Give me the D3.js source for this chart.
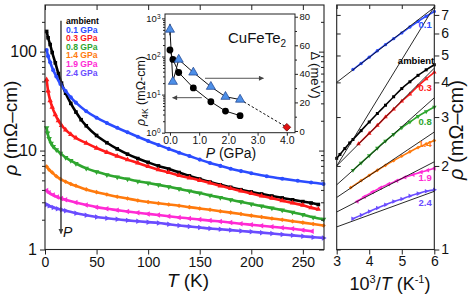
<!DOCTYPE html>
<html>
<head>
<meta charset="utf-8">
<script src="https://cdnjs.cloudflare.com/ajax/libs/d3/7.8.5/d3.min.js"></script>
<style>
body { margin: 0; background: #fff; }
svg { font-family: Arial, "Liberation Sans", sans-serif; }
</style>
</head>
<body>
<script>
// series info
var seriesNames = ["ambient", "0.1 GPa", "0.3 GPa", "0.8 GPa", "1.4 GPa", "1.9 GPa", "2.4 GPa"];
var seriesShort = ["ambient", "0.1", "0.3", "0.8", "1.4", "1.9", "2.4"];
var seriesColors = ["#000000", "#2b4cff", "#ff1a1a", "#2fa62f", "#ff7a0d", "#ff2ad4", "#6a4cff"];
var seriesMarkers = ["square", "circle", "up", "down", "diamond", "left", "right"];

// rho(T) curves, [T (K), rho (mOhm-cm)]
var rhoAmbient = [[1.6,160],[3,138],[5,118],[7,98],[10,77],[13,60],[16,48],[20,38],[25,30],[30,24.5],[35,20.5],[40,17.8],[50,14.2],[60,12],[70,10.4],[80,9.2],[90,8.3],[100,7.6],[110,7],[120,6.5],[130,6],[140,5.55],[150,5.15],[160,4.8],[170,4.5],[180,4.25],[190,4.02],[200,3.82],[210,3.64],[220,3.47],[230,3.32],[240,3.18],[250,3.05],[258,2.95],[265,2.85]];
var rho01 = [[1.6,104],[3,90],[5,78],[8,65],[11,56],[15,47],[20,40],[25,34.5],[30,30.5],[40,25],[50,21.5],[60,19],[70,17],[80,15.3],[90,13.8],[100,12.5],[110,11.4],[120,10.4],[130,9.5],[140,8.8],[150,8.1],[160,7.5],[170,7],[180,6.55],[190,6.2],[200,5.9],[215,5.5],[230,5.2],[245,4.95],[258,4.75],[270,4.6]];
var rho03 = [[1.6,52],[3,40],[5,32],[7,27.5],[10,23],[13,20],[16,18],[20,16.2],[25,14.6],[30,13.4],[40,11.9],[50,10.6],[60,9.6],[70,8.8],[80,8.1],[90,7.5],[100,6.9],[110,6.4],[120,6],[130,5.6],[140,5.3],[150,5],[160,4.7],[170,4.4],[180,4.15],[190,3.9],[200,3.68],[210,3.48],[220,3.3],[230,3.12],[240,2.95],[250,2.8],[258,2.65],[265,2.55]];
var rho08 = [[1.6,17],[2.5,15],[4,13.2],[6,11.8],[8,11],[11,10.2],[15,9.4],[20,8.5],[25,7.9],[30,7.4],[40,6.6],[50,6.1],[60,5.7],[70,5.4],[80,5.15],[90,4.9],[100,4.7],[110,4.5],[120,4.3],[130,4.1],[140,3.9],[150,3.72],[160,3.52],[170,3.35],[180,3.18],[190,3.03],[200,2.88],[210,2.75],[220,2.62],[230,2.5],[240,2.38],[250,2.25],[260,2.12],[270,2.02]];
var rho14 = [[1.6,6.9],[4,6.4],[7,6],[11,5.5],[15,5.15],[20,4.85],[25,4.6],[30,4.4],[40,4.05],[50,3.8],[60,3.6],[70,3.42],[80,3.27],[90,3.13],[100,3.02],[110,2.93],[120,2.85],[130,2.77],[140,2.68],[150,2.6],[160,2.52],[170,2.44],[180,2.36],[190,2.28],[200,2.2],[210,2.13],[220,2.06],[230,2],[240,1.93],[250,1.87],[260,1.81],[270,1.75]];
var rho19 = [[1.6,3.95],[4,3.75],[8,3.55],[12,3.4],[16,3.28],[20,3.18],[30,2.98],[40,2.82],[50,2.68],[60,2.58],[70,2.5],[80,2.42],[90,2.35],[100,2.29],[110,2.23],[120,2.17],[130,2.11],[140,2.06],[150,2.01],[160,1.96],[170,1.92],[180,1.87],[190,1.82],[200,1.78],[210,1.74],[220,1.7],[230,1.66],[240,1.62],[250,1.57],[259,1.53]];
var rho24 = [[1.6,2.85],[4,2.76],[8,2.66],[12,2.58],[16,2.52],[20,2.46],[30,2.33],[40,2.22],[50,2.13],[60,2.07],[70,2.02],[80,1.97],[90,1.93],[100,1.89],[110,1.85],[120,1.8],[130,1.75],[140,1.71],[150,1.67],[160,1.63],[170,1.6],[180,1.57],[190,1.54],[200,1.51],[210,1.48],[220,1.45],[230,1.42],[240,1.39],[250,1.36],[260,1.33],[270,1.31]];
var leftData = [rhoAmbient, rho01, rho03, rho08, rho14, rho19, rho24];

// Arrhenius panel, [1000/T, rho]
var arrAmbient = [[3,2.13],[3.1,2.2],[3.25,2.31],[3.4,2.42],[3.5,2.49],[3.75,2.68],[4,2.88],[4.25,3.09],[4.5,3.31],[4.75,3.55],[5,3.8],[5.25,4.02],[5.5,4.24],[5.75,4.44],[6,4.63]];
var arr01 = [[3.5,4.45],[3.75,4.68],[4,4.93],[4.25,5.2],[4.5,5.47],[4.75,5.75],[5,6.03],[5.25,6.33],[5.5,6.63],[5.75,6.92],[6,7.2]];
var arr03 = [[3.67,2.4],[4,2.62],[4.25,2.8],[4.5,3],[4.75,3.2],[5,3.42],[5.25,3.63],[5.5,3.88],[5.75,4.12],[6,4.35]];
var arr08 = [[3.5,1.93],[3.75,2.05],[4,2.18],[4.25,2.32],[4.5,2.46],[4.75,2.6],[5,2.75],[5.25,2.88],[5.5,3.02],[5.75,3.14],[6,3.26]];
var arr14 = [[3.43,1.67],[3.75,1.77],[4,1.85],[4.25,1.93],[4.5,2.01],[4.75,2.09],[5,2.17],[5.25,2.25],[5.5,2.33],[5.75,2.4],[6,2.47]];
var arr19 = [[3.63,1.49],[3.85,1.55],[4.1,1.61],[4.35,1.67],[4.6,1.72],[4.85,1.77],[5.1,1.82],[5.35,1.86],[5.6,1.9],[5.8,1.93],[6,1.96]];
var arr24 = [[3.49,1.29],[3.75,1.33],[4,1.37],[4.25,1.41],[4.5,1.45],[4.75,1.49],[5,1.52],[5.25,1.56],[5.5,1.59],[5.75,1.62],[6,1.64]];
var rightData = [arrAmbient, arr01, arr03, arr08, arr14, arr19, arr24];
// fit lines: rho at 1000/T = 3 and 6
var fitStart = [4.0, 2.0, 2.0, 1.71, 1.54, 1.365, 1.206];
var fitEnd = [7.45, 7.5, 4.5, 3.52, 2.65, 2.07, 1.62];
// label heights for right panel
var labelRho = [4.77, 6.43, 3.82, 2.89, 2.4, 1.81, 1.47];
var labelInvT = [6.0, 5.92, 5.92, 5.92, 5.92, 5.92, 5.92];

// inset
var pressure = [0, 0.1, 0.3, 0.8, 1.4, 1.9, 2.4];
var rho4K = [148, 84, 38, 15, 6.5, 3.7, 2.8];
var gap = [71, 34.5, 50, 41, 31, 24, 22];
var gapErr = [4, 0, 0, 0, 0, 0, 0];
var metalP = [4];
var metalGap = [2.6];

// ticks
var tTicks = [0, 50, 100, 150, 200, 250];
var rhoTicks = [1, 10, 100];
var rhoMinor = [2,3,4,5,6,7,8,9,20,30,40,50,60,70,80,90,200];
var invTicks = [3, 4, 5, 6];
var rhoRTicks = [1, 2, 3, 4, 5, 6, 7];
var pTicks = [0, 1, 2, 3, 4];
var rho4Ticks = [1, 10, 100, 1000];
var rho4Minor = [2,3,4,5,6,7,8,9,20,30,40,50,60,70,80,90,200,300,400,500,600,700,800,900];
var gapTicks = [0, 20, 40, 60, 80];
var gapMinor = [10, 30, 50, 70];

var svg = d3.select("body").append("svg")
	.attr("width", 472)
	.attr("height", 296);

svg.append("defs").append("marker")
	.attr("id", "ah")
	.attr("viewBox", "0 0 10 10")
	.attr("refX", 9).attr("refY", 5)
	.attr("markerWidth", 7).attr("markerHeight", 5)
	.attr("markerUnits", "userSpaceOnUse")
	.attr("orient", "auto")
	.append("path").attr("d", "M0,0L10,5L0,10z").attr("fill", "#444");

// marker shape generator
function markerPath(kind, size) {
	var t = d3.symbolTriangle;
	if (kind == "square") return { d: d3.symbol().type(d3.symbolSquare).size(size)(), r: 0 };
	if (kind == "circle") return { d: d3.symbol().type(d3.symbolCircle).size(size)(), r: 0 };
	if (kind == "diamond") return { d: d3.symbol().type(d3.symbolSquare).size(size * 0.8)(), r: 45 };
	if (kind == "up") return { d: d3.symbol().type(t).size(size)(), r: 0 };
	if (kind == "down") return { d: d3.symbol().type(t).size(size)(), r: 180 };
	if (kind == "left") return { d: d3.symbol().type(t).size(size)(), r: -90 };
	return { d: d3.symbol().type(t).size(size)(), r: 90 };
}

function styleAxis(g, fs) {
	g.select(".domain").remove();
	g.selectAll("line").attr("stroke", "#222");
	g.selectAll("text").attr("font-size", fs).attr("fill", "#111").attr("font-family", "Arial, 'Liberation Sans', sans-serif");
}

// ---------------- main panel ----------------
var x = d3.scaleLinear().domain([0, 270.5]).range([45, 324]);
var y = d3.scaleLog().domain([1, 296]).range([249.5, 5]);

var line = d3.line()
	.x(function(d) { return x(d[0]); })
	.y(function(d) { return y(d[1]); })
	.curve(d3.curveMonotoneX);

var curves = svg.append("g");
leftData.forEach(function(data, i) {
	curves.append("path")
		.attr("d", line(data))
		.attr("fill", "none")
		.attr("stroke", seriesColors[i])
		.attr("stroke-width", 2.6);
	var m = markerPath(seriesMarkers[i], 13);
	curves.selectAll(".m" + i)
		.data(data)
		.enter().append("path")
		.attr("d", m.d)
		.attr("fill", seriesColors[i])
		.attr("transform", function(d) {
			return "translate(" + x(d[0]) + "," + y(d[1]) + ") rotate(" + m.r + ")";
		});
});

// frame and ticks
svg.append("rect").attr("x", 45).attr("y", 5).attr("width", 279).attr("height", 244.5)
	.attr("fill", "none").attr("stroke", "#222").attr("stroke-width", 1.1);

svg.append("g").attr("transform", "translate(0,249.5)")
	.call(d3.axisBottom(x).tickValues(tTicks).tickSize(5).tickPadding(3))
	.call(styleAxis, 14);
svg.append("g").attr("transform", "translate(0,5)")
	.call(d3.axisBottom(x).tickValues(tTicks).tickSize(5).tickFormat(""))
	.call(styleAxis, 14);
svg.append("g").attr("transform", "translate(45,0)")
	.call(d3.axisLeft(y).tickValues(rhoTicks).tickFormat(d3.format("d")).tickSize(5).tickPadding(3))
	.call(styleAxis, 16);
svg.append("g").attr("transform", "translate(45,0)")
	.call(d3.axisLeft(y).tickValues(rhoMinor).tickFormat("").tickSize(3))
	.call(styleAxis, 16);
svg.append("g").attr("transform", "translate(324,0)")
	.call(d3.axisLeft(y).tickValues(rhoTicks).tickFormat("").tickSize(5))
	.call(styleAxis, 16);
svg.append("g").attr("transform", "translate(324,0)")
	.call(d3.axisLeft(y).tickValues(rhoMinor).tickFormat("").tickSize(3))
	.call(styleAxis, 16);

// axis titles
var tt = svg.append("text").attr("x", 188).attr("y", 287).attr("text-anchor", "middle").attr("font-size", 19).attr("fill", "#111");
tt.append("tspan").attr("font-style", "italic").text("T");
tt.append("tspan").text(" (K)");

svg.append("text")
	.attr("transform", "translate(17,128) rotate(-90)")
	.attr("text-anchor", "middle").attr("font-size", 19).attr("fill", "#111")
	.html('<tspan font-style="italic">ρ</tspan> (mΩ–cm)');

// legend
seriesNames.forEach(function(n, i) {
	svg.append("text")
		.attr("x", 66).attr("y", 24 + i * 8.6)
		.attr("font-size", 8.6).attr("font-weight", "bold")
		.attr("fill", seriesColors[i])
		.text(n);
});

// pressure arrow
svg.append("line")
	.attr("x1", x(15.5)).attr("x2", x(15.5))
	.attr("y1", y(205)).attr("y2", y(1.45))
	.attr("stroke", "#333").attr("stroke-width", 1.4)
	.attr("marker-end", "url(#ah)");
svg.append("text").attr("x", x(17.5)).attr("y", y(1.45) + 3)
	.attr("font-size", 14).attr("font-style", "italic").attr("fill", "#111").text("P");

// ---------------- inset ----------------
var xi = d3.scaleLinear().domain([-0.17, 4.28]).range([165, 295]);
var yi = d3.scaleLog().domain([1, 1304]).range([132.7, 14]);
var gi = d3.scaleLinear().domain([-1.2, 81.9]).range([132.7, 14]);

svg.append("rect").attr("x", 165).attr("y", 14).attr("width", 130).attr("height", 118.7)
	.attr("fill", "#fff").attr("stroke", "#222").attr("stroke-width", 1);

function supLabels(g) {
	g.selectAll(".tick text").each(function(d) {
		var t = d3.select(this);
		t.text("10");
		t.append("tspan").attr("dy", "-0.5em").attr("font-size", 6.5).text(Math.round(Math.log10(d)));
	});
}

svg.append("g").attr("transform", "translate(165,0)")
	.call(d3.axisLeft(yi).tickValues(rho4Ticks).tickSize(3).tickPadding(1.5))
	.call(styleAxis, 9.5)
	.call(supLabels);
svg.append("g").attr("transform", "translate(165,0)")
	.call(d3.axisLeft(yi).tickValues(rho4Minor).tickFormat("").tickSize(2))
	.call(styleAxis, 9.5);
svg.append("g").attr("transform", "translate(0,132.7)")
	.call(d3.axisBottom(xi).tickValues(pTicks).tickSize(3).tickPadding(1))
	.call(styleAxis, 10.5);
svg.append("g").attr("transform", "translate(295,0)")
	.call(d3.axisRight(gi).tickValues(gapTicks).tickSize(3).tickPadding(1.5))
	.call(styleAxis, 9.5);
svg.append("g").attr("transform", "translate(295,0)")
	.call(d3.axisRight(gi).tickValues(gapMinor).tickFormat("").tickSize(2))
	.call(styleAxis, 9.5);

// inset titles
svg.append("text")
	.attr("transform", "translate(145,91) rotate(-90)")
	.attr("text-anchor", "middle").attr("font-size", 12.5).attr("fill", "#111")
	.html('<tspan font-style="italic">ρ</tspan><tspan dy="3" font-size="8.5">4K</tspan><tspan dy="-3"> (mΩ-cm)</tspan>');
svg.append("text")
	.attr("transform", "translate(311,75) rotate(90)")
	.attr("text-anchor", "middle").attr("font-size", 13).attr("fill", "#111")
	.text("Δ (meV)");
var pt = svg.append("text").attr("x", 231).attr("y", 158).attr("text-anchor", "middle").attr("font-size", 14).attr("fill", "#111");
pt.append("tspan").attr("font-style", "italic").text("P");
pt.append("tspan").text(" (GPa)");
svg.append("text").attr("x", 228).attr("y", 43).attr("font-size", 15).attr("fill", "#111")
	.html('CuFeTe<tspan dy="4" font-size="10">2</tspan>');

// inset data
var gapPts = pressure.map(function(p, i) { return [p, gap[i]]; });
var rhoPts = pressure.map(function(p, i) { return [p, rho4K[i]]; });

svg.append("path")
	.attr("d", d3.line().x(function(d) { return xi(d[0]); }).y(function(d) { return gi(d[1]); })(gapPts))
	.attr("fill", "none").attr("stroke", "#111").attr("stroke-width", 1);
svg.append("path")
	.attr("d", d3.line().x(function(d) { return xi(d[0]); }).y(function(d) { return yi(d[1]); })(rhoPts))
	.attr("fill", "none").attr("stroke", "#111").attr("stroke-width", 1);
svg.append("line")
	.attr("x1", xi(pressure[6])).attr("y1", gi(gap[6]))
	.attr("x2", xi(metalP[0])).attr("y2", gi(metalGap[0]))
	.attr("stroke", "#111").attr("stroke-width", 1).attr("stroke-dasharray", "2.5,2");

// error bars
pressure.forEach(function(p, i) {
	if (gapErr[i] > 0) {
		svg.append("line")
			.attr("x1", xi(p)).attr("x2", xi(p))
			.attr("y1", gi(gap[i] + gapErr[i])).attr("y2", gi(gap[i] - gapErr[i]))
			.attr("stroke", "#111").attr("stroke-width", 1);
	}
});

svg.selectAll(".c4k").data(rhoPts).enter().append("circle")
	.attr("cx", function(d) { return xi(d[0]); })
	.attr("cy", function(d) { return yi(d[1]); })
	.attr("r", 3.4).attr("fill", "#000");

svg.selectAll(".tri").data(gapPts).enter().append("path")
	.attr("d", d3.symbol().type(d3.symbolTriangle).size(36)())
	.attr("transform", function(d) { return "translate(" + xi(d[0]) + "," + gi(d[1]) + ")"; })
	.attr("fill", "#4d8fe8").attr("stroke", "#1b3f8a").attr("stroke-width", 0.7);

svg.selectAll(".met").data(metalP).enter().append("path")
	.attr("d", d3.symbol().type(d3.symbolSquare).size(30)())
	.attr("transform", function(d, i) { return "translate(" + xi(d) + "," + gi(metalGap[i]) + ") rotate(45)"; })
	.attr("fill", "#e01010").attr("stroke", "#6a0000").attr("stroke-width", 0.7);

// inset arrows
svg.append("line")
	.attr("x1", xi(1.2)).attr("x2", xi(3.2)).attr("y1", gi(36.9)).attr("y2", gi(36.9))
	.attr("stroke", "#555").attr("stroke-width", 1).attr("marker-end", "url(#ah)");
svg.append("line")
	.attr("x1", xi(1.09)).attr("x2", xi(0.09)).attr("y1", yi(8.3)).attr("y2", yi(8.3))
	.attr("stroke", "#555").attr("stroke-width", 1).attr("marker-end", "url(#ah)");

// ---------------- Arrhenius panel ----------------
var xr = d3.scaleLinear().domain([3, 6]).range([336.7, 434.3]);
var yr = d3.scaleLog().domain([1, 7.6]).range([249.5, 5]);

var lineR = d3.line()
	.x(function(d) { return xr(d[0]); })
	.y(function(d) { return yr(d[1]); })
	.curve(d3.curveMonotoneX);

rightData.forEach(function(data, i) {
	svg.append("path")
		.attr("d", lineR(data))
		.attr("fill", "none")
		.attr("stroke", seriesColors[i])
		.attr("stroke-width", 1.6);
	var m = markerPath(seriesMarkers[i], 9);
	svg.selectAll(".r" + i)
		.data(data)
		.enter().append("path")
		.attr("d", m.d)
		.attr("fill", seriesColors[i])
		.attr("transform", function(d) {
			return "translate(" + xr(d[0]) + "," + yr(d[1]) + ") rotate(" + m.r + ")";
		});
});

// fit lines
fitStart.forEach(function(v, i) {
	svg.append("line")
		.attr("x1", xr(3)).attr("y1", yr(v))
		.attr("x2", xr(6)).attr("y2", yr(fitEnd[i]))
		.attr("stroke", "#111").attr("stroke-width", 0.9);
});

// labels
seriesShort.forEach(function(n, i) {
	svg.append("text")
		.attr("x", xr(labelInvT[i])).attr("y", yr(labelRho[i]) + 3.3)
		.attr("text-anchor", "end")
		.attr("font-size", 9.5).attr("font-weight", "bold")
		.attr("fill", seriesColors[i])
		.text(n);
});

svg.append("rect").attr("x", 336.7).attr("y", 5).attr("width", 97.6).attr("height", 244.5)
	.attr("fill", "none").attr("stroke", "#222").attr("stroke-width", 1.1);

svg.append("g").attr("transform", "translate(0,249.5)")
	.call(d3.axisBottom(xr).tickValues(invTicks).tickFormat(d3.format("d")).tickSize(5).tickPadding(2))
	.call(styleAxis, 14);
svg.append("g").attr("transform", "translate(0,5)")
	.call(d3.axisBottom(xr).tickValues(invTicks).tickSize(4).tickFormat(""))
	.call(styleAxis, 14);
svg.append("g").attr("transform", "translate(434.3,0)")
	.call(d3.axisRight(yr).tickValues(rhoRTicks).tickFormat(d3.format("d")).tickSize(5).tickPadding(2))
	.call(styleAxis, 14);
svg.append("g").attr("transform", "translate(336.7,0)")
	.call(d3.axisRight(yr).tickValues(rhoRTicks).tickFormat("").tickSize(4))
	.call(styleAxis, 14);

var xt = svg.append("text").attr("x", 390).attr("y", 290).attr("text-anchor", "middle").attr("font-size", 18).attr("fill", "#111");
xt.append("tspan").text("10");
xt.append("tspan").attr("dy", -7).attr("font-size", 11).text("3");
xt.append("tspan").attr("dy", 7).text("/");
xt.append("tspan").attr("font-style", "italic").text("T");
xt.append("tspan").text(" (K");
xt.append("tspan").attr("dy", -7).attr("font-size", 11).text("-1");
xt.append("tspan").attr("dy", 7).text(")");

svg.append("text")
	.attr("transform", "translate(463,130) rotate(-90)")
	.attr("text-anchor", "middle").attr("font-size", 20).attr("fill", "#111")
	.html('<tspan font-style="italic">ρ</tspan> (mΩ–cm)');
</script>
</body>
</html>
